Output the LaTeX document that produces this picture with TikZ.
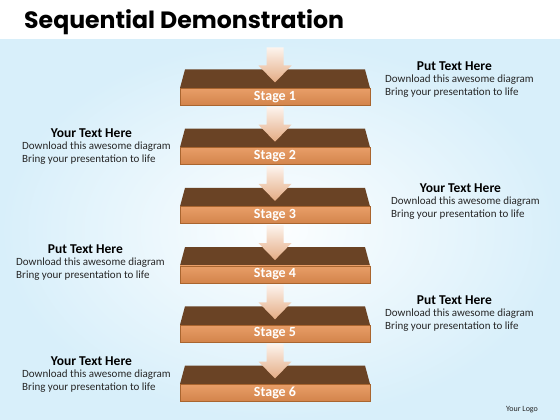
\documentclass[tikz,border=0pt]{standalone}
\usepackage{fontspec}
\setmainfont{Carlito}
\newfontfamily\titlefont{Poppins}
\usetikzlibrary{positioning}
\definecolor{facedark}{HTML}{6A4325}
\definecolor{frontlight}{HTML}{E89E68}
\definecolor{frontdark}{HTML}{D3844B}
\definecolor{frontline}{HTML}{A9652F}
\definecolor{arrowtop}{HTML}{FDF4EE}
\definecolor{arrowbot}{HTML}{E4AC84}
\definecolor{bgedge}{HTML}{D8EFFA}
\definecolor{bgmid}{HTML}{FCFEFF}
\definecolor{inktext}{HTML}{262626}
\tikzstyle{stagebox}=[rectangle, draw=frontline, line width=.4pt, top color=frontlight, bottom color=frontdark, minimum width=190pt, minimum height=17pt, inner sep=0pt, text=white, font=\bfseries\fontsize{14}{16}\selectfont]
\tikzstyle{bodytext}=[inner sep=0pt, align=left, text=inktext, font=\fontsize{11}{13}\selectfont]
\tikzstyle{headtext}=[inner sep=0pt, text=black, font=\bfseries\fontsize{13.5}{15}\selectfont]
\newcommand{\stagebox}{\node[stagebox]}

\begin{document}
\begin{tikzpicture}[x=1pt, y=-1pt]
\useasboundingbox (0,0) rectangle (560,420);
\fill[white] (0,0) rectangle (560,40);
\shade[inner color=bgmid, outer color=bgedge] (0,40) rectangle (560,420);
\node[anchor=base west, inner sep=0pt, font=\titlefont\bfseries\fontsize{23.6}{28}\selectfont] (title) at (24,29) {Sequential Demonstration};
% slabs with their arrows
\foreach \i in {1,...,6}{
	\pgfmathsetmacro{\y}{69.5+59.2*(\i-1)}
	\fill[facedark] (185,\y) -- (365,\y) -- (370,\y+18.5) -- (180,\y+18.5) -- cycle;
	\shade[top color=arrowtop, bottom color=arrowbot] (266.5,\y-22) -- (283.5,\y-22) -- (283.5,\y-4) -- (291.5,\y-4) -- (275,\y+13) -- (258.5,\y-4) -- (266.5,\y-4) -- cycle;
	\stagebox (s\i) at (275,\y+27.2) {Stage \i};
	}
% side texts (base = last line)
\foreach \i/\x/\yb/\head in {1/385/95.7/Put Text Here, 2/22/162.5/Your Text Here, 3/391/217.7/Your Text Here, 4/16/278.7/Put Text Here, 5/385/329.7/Put Text Here, 6/22/390.7/Your Text Here}{
	\node[bodytext, anchor=base west] (b\i) at (\x,\yb) {Download this awesome diagram\\Bring your presentation to life};
	\node[headtext, above=4pt of b\i.north, xshift=-5pt] (h\i) {\head};
	}
\node[inner sep=0pt, text=inktext, font=\fontsize{8}{9}\selectfont] (logo) at (522,410) {Your Logo};
\end{tikzpicture}
\end{document}
